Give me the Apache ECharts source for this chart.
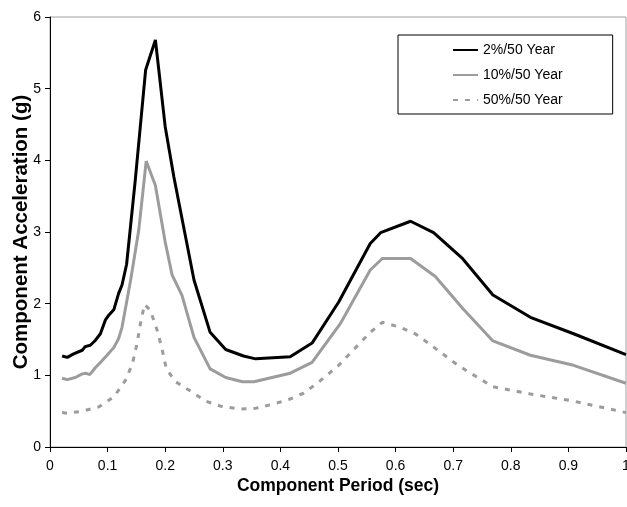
<!DOCTYPE html>
<html>
<head>
<meta charset="utf-8">
<script src="https://cdn.jsdelivr.net/npm/echarts@6/dist/echarts.min.js"></script>
<style>
html,body{margin:0;padding:0;background:#fff;}
#chart{width:627px;height:507px;}
</style>
</head>
<body>
<div id="chart"></div>
<script>
// Series data: [period (sec), acceleration (g)]
var seriesNames = ['2%/50 Year', '10%/50 Year', '50%/50 Year'];

var hazard2in50 = [
  [0.021,1.27],[0.03,1.25],[0.041,1.30],[0.056,1.35],[0.061,1.40],[0.07,1.42],
  [0.079,1.49],[0.0875,1.58],[0.096,1.77],[0.102,1.84],[0.111,1.92],[0.119,2.14],
  [0.125,2.26],[0.133,2.55],[0.148,3.72],[0.166,5.26],[0.183,5.68],[0.2,4.47],
  [0.215,3.77],[0.25,2.33],[0.278,1.60],[0.305,1.36],[0.336,1.27],[0.357,1.23],
  [0.417,1.26],[0.455,1.45],[0.501,2.02],[0.556,2.84],[0.574,2.99],[0.626,3.15],
  [0.666,2.99],[0.715,2.64],[0.769,2.12],[0.834,1.81],[0.909,1.58],[1.0,1.29]
];

var hazard10in50 = [
  [0.021,0.96],[0.03,0.94],[0.044,0.97],[0.056,1.02],[0.062,1.03],[0.069,1.01],
  [0.079,1.11],[0.0875,1.18],[0.099,1.28],[0.111,1.39],[0.119,1.51],[0.125,1.67],
  [0.14,2.33],[0.154,3.02],[0.167,3.99],[0.183,3.65],[0.2,2.86],[0.212,2.40],
  [0.229,2.12],[0.25,1.53],[0.278,1.09],[0.305,0.97],[0.334,0.91],[0.354,0.91],
  [0.417,1.03],[0.455,1.18],[0.504,1.72],[0.556,2.47],[0.577,2.63],[0.626,2.63],
  [0.669,2.38],[0.717,1.93],[0.769,1.48],[0.834,1.28],[0.909,1.14],[1.0,0.89]
];

var hazard50in50 = [
  [0.021,0.48],[0.03,0.47],[0.056,0.50],[0.085,0.56],[0.111,0.70],[0.131,0.93],
  [0.143,1.16],[0.151,1.44],[0.157,1.72],[0.164,1.99],[0.174,1.91],[0.186,1.63],
  [0.195,1.35],[0.202,1.09],[0.218,0.91],[0.244,0.78],[0.27,0.64],[0.296,0.57],
  [0.328,0.53],[0.357,0.54],[0.383,0.59],[0.414,0.66],[0.44,0.75],[0.464,0.89],
  [0.5,1.13],[0.556,1.60],[0.577,1.74],[0.608,1.67],[0.634,1.58],[0.66,1.43],
  [0.71,1.13],[0.769,0.84],[0.834,0.74],[0.909,0.64],[1.0,0.48]
];

var xTickLabels = ['0','0.1','0.2','0.3','0.4','0.5','0.6','0.7','0.8','0.9','1'];
var yTickLabels = ['0','1','2','3','4','5','6'];

var FONT = '"Liberation Sans", Arial, sans-serif';
var chart = echarts.init(document.getElementById('chart'), null, {renderer: 'canvas'});

chart.setOption({
  animation: false,
  backgroundColor: '#ffffff',
  grid: {
    left: 50, right: 1, top: 17, bottom: 60,
    containLabel: false,
    outerBoundsMode: 'none',
    show: true, borderColor: '#a0a0a0', borderWidth: 1, backgroundColor: 'transparent'
  },
  legend: {
    orient: 'vertical',
    left: 398, top: 35,
    padding: [8, 50, 7, 54],
    itemWidth: 25, itemHeight: 14, itemGap: 11,
    borderColor: '#000', borderWidth: 1,
    backgroundColor: '#fff',
    itemStyle: {opacity: 0},
    textStyle: {fontFamily: FONT, fontSize: 14, color: '#000'},
    data: seriesNames
  },
  xAxis: {
    type: 'value', min: 0, max: 1, interval: 0.1,
    name: 'Component Period (sec)', nameLocation: 'middle', nameGap: 30,
    nameMoveOverlap: false,
    nameTextStyle: {fontFamily: FONT, fontSize: 17.5, fontWeight: 'bold', color: '#000'},
    axisLine: {show: true, onZero: false, lineStyle: {color: '#000', width: 1}},
    axisTick: {show: true, inside: false, length: 5, lineStyle: {color: '#000'}},
    axisLabel: {
      fontFamily: FONT, fontSize: 14, color: '#000', margin: 12,
      formatter: function (v) { return xTickLabels[Math.round(v * 10)]; }
    },
    splitLine: {show: false}
  },
  yAxis: {
    type: 'value', min: 0, max: 6, interval: 1,
    name: 'Component Acceleration (g)', nameLocation: 'middle', nameGap: 18,
    nameMoveOverlap: false,
    nameTextStyle: {fontFamily: FONT, fontSize: 20.5, fontWeight: 'bold', color: '#000'},
    axisLine: {show: true, onZero: false, lineStyle: {color: '#000', width: 1}},
    axisTick: {show: true, inside: false, length: 5, lineStyle: {color: '#000'}},
    axisLabel: {
      fontFamily: FONT, fontSize: 14, color: '#000', margin: 9,
      formatter: function (v) { return yTickLabels[Math.round(v)]; }
    },
    splitLine: {show: false}
  },
  series: [
    {
      name: seriesNames[0], type: 'line', data: hazard2in50,
      symbol: 'none', smooth: false, color: '#000',
      lineStyle: {color: '#000', width: 3}
    },
    {
      name: seriesNames[1], type: 'line', data: hazard10in50,
      symbol: 'none', smooth: false, color: '#9c9c9c',
      lineStyle: {color: '#9c9c9c', width: 3}
    },
    {
      name: seriesNames[2], type: 'line', data: hazard50in50,
      symbol: 'none', smooth: false, color: '#9c9c9c',
      lineStyle: {color: '#9c9c9c', width: 3, type: [5, 7]}
    }
  ]
});
</script>
</body>
</html>
